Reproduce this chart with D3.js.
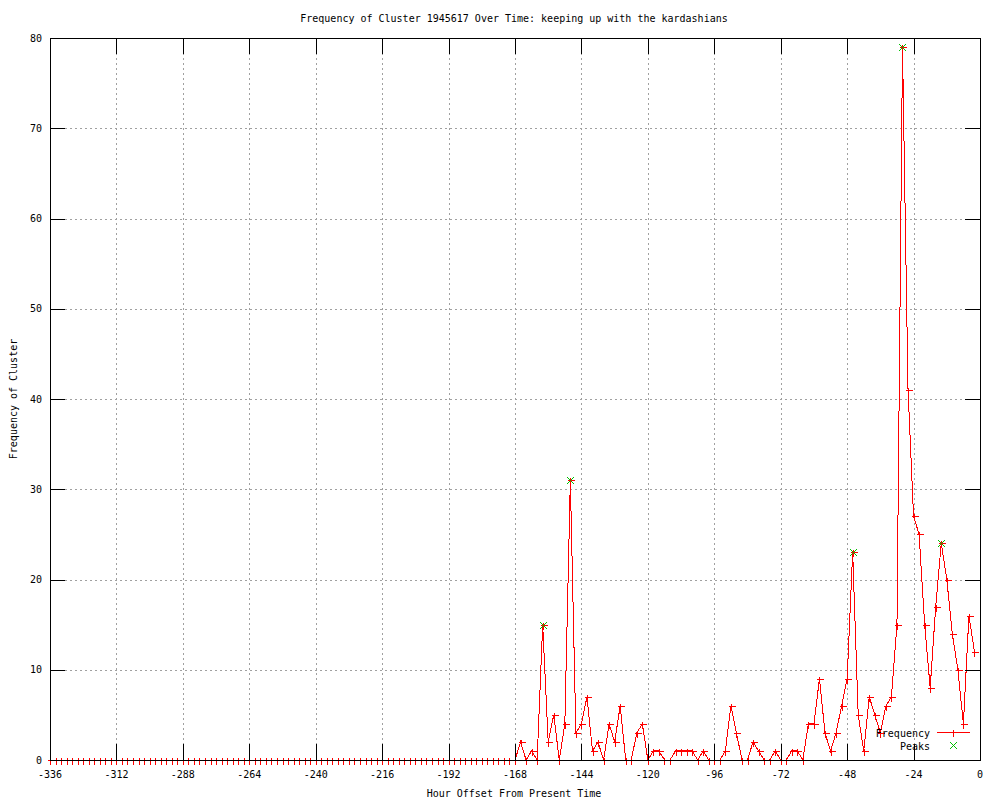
<!DOCTYPE html>
<html>
<head>
<meta charset="utf-8">
<script src="https://cdn.jsdelivr.net/npm/d3@7"></script>
<style>
  html, body { margin: 0; padding: 0; background: #fff; }
  svg { display: block; }
  text { font-family: "DejaVu Sans Mono", "Liberation Mono", monospace; font-size: 10px; fill: #000; }
</style>
</head>
<body>
<svg id="chart" width="1000" height="800"></svg>
<script>
// ---- data ----
const hours = [
  -336,-334,-332,-330,-328,-326,-324,-322,-320,-318,-316,-314,-312,-310,-308,-306,-304,-302,-300,-298,
  -296,-294,-292,-290,-288,-286,-284,-282,-280,-278,-276,-274,-272,-270,-268,-266,-264,-262,-260,-258,
  -256,-254,-252,-250,-248,-246,-244,-242,-240,-238,-236,-234,-232,-230,-228,-226,-224,-222,-220,-218,
  -216,-214,-212,-210,-208,-206,-204,-202,-200,-198,-196,-194,-192,-190,-188,-186,-184,-182,-180,-178,
  -176,-174,-172,-170,-168,-166,-164,-162,-160,-158,-156,-154,-152,-150,-148,-146,-144,-142,-140,-138,
  -136,-134,-132,-130,-128,-126,-124,-122,-120,-118,-116,-114,-112,-110,-108,-106,-104,-102,-100,-98,
  -96,-94,-92,-90,-88,-86,-84,-82,-80,-78,-76,-74,-72,-70,-68,-66,-64,-62,-60,-58,
  -56,-54,-52,-50,-48,-46,-44,-42,-40,-38,-36,-34,-32,-30,-28,-26,-24,-22,-20,-18,
  -16,-14,-12,-10,-8,-6,-4,-2
];
const frequency = [
  0,0,0,0,0,0,0,0,0,0,0,0,0,0,0,0,0,0,0,0,
  0,0,0,0,0,0,0,0,0,0,0,0,0,0,0,0,0,0,0,0,
  0,0,0,0,0,0,0,0,0,0,0,0,0,0,0,0,0,0,0,0,
  0,0,0,0,0,0,0,0,0,0,0,0,0,0,0,0,0,0,0,0,
  0,0,0,0,0,2,0,1,0,15,2,5,0,4,31,3,4,7,1,2,
  0,4,2,6,0,0,3,4,0,1,1,0,0,1,1,1,1,0,1,0,
  0,0,1,6,3,0,0,2,1,0,0,1,0,0,1,1,0,4,4,9,
  3,1,3,6,9,23,5,1,7,5,3,6,7,15,79,41,27,25,15,8,
  17,24,20,14,10,4,16,12
];
const peakHours = [-158, -148, -46, -28, -14];
const peakValues = [15, 31, 23, 79, 24];
const xTicks = [-336,-312,-288,-264,-240,-216,-192,-168,-144,-120,-96,-72,-48,-24,0];
const yTicks = [0,10,20,30,40,50,60,70,80];

const titleText = "Frequency of Cluster 1945617 Over Time: keeping up with the kardashians";
const xLabel = "Hour Offset From Present Time";
const yLabel = "Frequency of Cluster";
const seriesNames = ["Frequency", "Peaks"];

// ---- drawing ----
const svg = d3.select("#chart");
const L = 50, R = 980, T = 38, B = 760;
const x = d3.scaleLinear().domain([-336, 0]).range([L, R]);
const y = d3.scaleLinear().domain([0, 80]).range([B, T]);
const px = v => Math.round(v) + 0.5;

const red = "#ff0000", green = "#00c000", grid = "#a0a0a0";
const tickLen = 16;

// grid
const g = svg.append("g").attr("shape-rendering", "crispEdges");
xTicks.filter(t => t !== -336 && t !== 0).forEach(t => {
  g.append("line").attr("x1", px(x(t))).attr("x2", px(x(t)))
    .attr("y1", T).attr("y2", B)
    .attr("stroke", grid).attr("stroke-dasharray", "2,3");
});
yTicks.filter(t => t !== 0 && t !== 80).forEach(t => {
  g.append("line").attr("y1", px(y(t))).attr("y2", px(y(t)))
    .attr("x1", L).attr("x2", R)
    .attr("stroke", grid).attr("stroke-dasharray", "2,3");
});

// data line
const pts = hours.map((h, i) => [h, frequency[i]]);
const line = d3.line().x(d => x(d[0])).y(d => y(d[1]));
svg.append("path").datum(pts).attr("d", line)
  .attr("fill", "none").attr("stroke", red).attr("stroke-width", 1)
  .attr("shape-rendering", "crispEdges");

function plus(sel, cx, cy, color) {
  const X = px(cx), Y = px(cy), s = 3;
  sel.append("path").attr("d", `M${X - s},${Y}H${X + s + 1}M${X},${Y - s}V${Y + s + 1}`)
    .attr("stroke", color).attr("fill", "none").attr("shape-rendering", "crispEdges");
}
function cross(sel, cx, cy, color) {
  const X = Math.round(cx), Y = Math.round(cy), s = 3;
  const gg = sel.append("g").attr("fill", color).attr("shape-rendering", "crispEdges");
  for (let k = -s; k <= s; k++) {
    gg.append("rect").attr("x", X + k).attr("y", Y + k).attr("width", 1).attr("height", 1);
    gg.append("rect").attr("x", X + k).attr("y", Y - k).attr("width", 1).attr("height", 1);
  }
}

const mk = svg.append("g");
pts.forEach(d => plus(mk, x(d[0]), y(d[1]), red));
peakHours.forEach((h, i) => cross(mk, x(h), y(peakValues[i]), green));

// border & ticks
const ax = svg.append("g").attr("shape-rendering", "crispEdges").attr("stroke", "#000");
ax.append("rect").attr("x", px(L)).attr("y", px(T)).attr("width", R - L).attr("height", B - T)
  .attr("fill", "none");
xTicks.forEach(t => {
  const X = px(x(t));
  ax.append("line").attr("x1", X).attr("x2", X).attr("y1", B).attr("y2", B - tickLen);
  ax.append("line").attr("x1", X).attr("x2", X).attr("y1", T).attr("y2", T + tickLen);
});
yTicks.forEach(t => {
  const Y = px(y(t));
  ax.append("line").attr("y1", Y).attr("y2", Y).attr("x1", L).attr("x2", L + tickLen - 1);
  ax.append("line").attr("y1", Y).attr("y2", Y).attr("x1", R).attr("x2", R - tickLen + 1);
});

// tick labels
xTicks.forEach(t => {
  svg.append("text").attr("x", x(t)).attr("y", 778).attr("text-anchor", "middle").text(t);
});
yTicks.forEach(t => {
  svg.append("text").attr("x", 42).attr("y", y(t)).attr("dy", "0.35em").attr("text-anchor", "end").text(t);
});

// titles
svg.append("text").attr("x", 514).attr("y", 22).attr("text-anchor", "middle").text(titleText);
svg.append("text").attr("x", 514).attr("y", 797).attr("text-anchor", "middle").text(xLabel);
svg.append("text").attr("transform", "translate(17,399) rotate(-90)").attr("text-anchor", "middle").text(yLabel);

// legend
const lg = svg.append("g");
lg.append("text").attr("x", 930).attr("y", 733).attr("dy", "0.35em").attr("text-anchor", "end").text(seriesNames[0]);
lg.append("line").attr("x1", 937).attr("x2", 970).attr("y1", 732.5).attr("y2", 732.5)
  .attr("stroke", red).attr("shape-rendering", "crispEdges");
plus(lg, 953, 732, red);
lg.append("text").attr("x", 930).attr("y", 746).attr("dy", "0.35em").attr("text-anchor", "end").text(seriesNames[1]);
cross(lg, 953, 745, green);
</script>
</body>
</html>
